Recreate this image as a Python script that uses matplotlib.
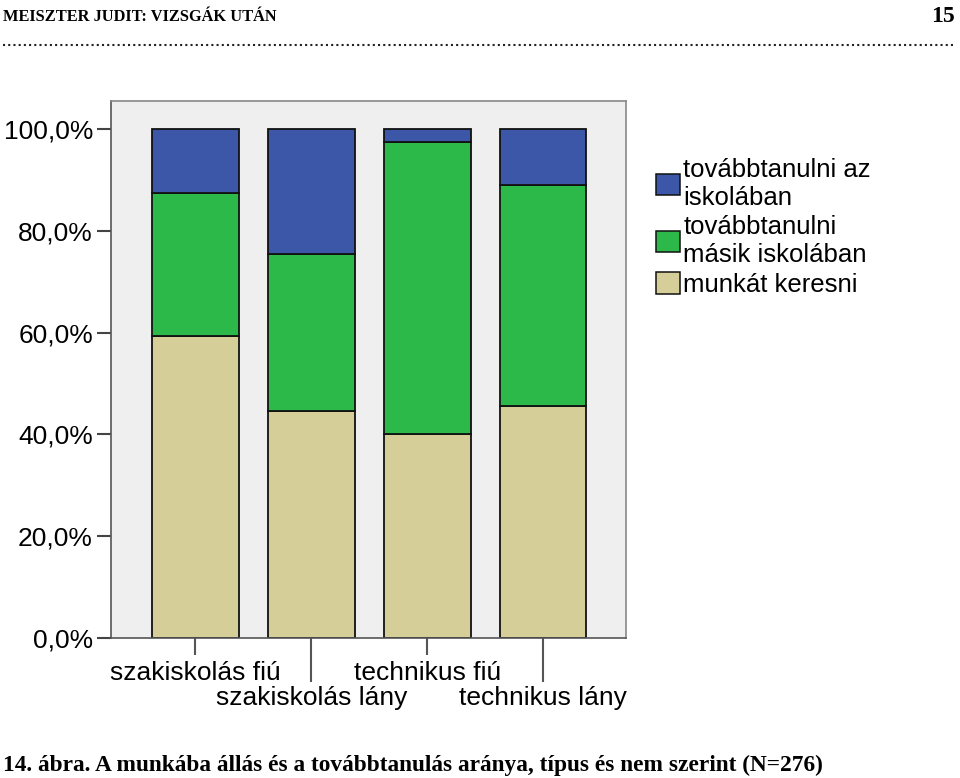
import matplotlib
matplotlib.use("Agg")
import matplotlib.pyplot as plt
from matplotlib.lines import Line2D
from matplotlib.patches import Patch
import numpy as np

# data (percent of each group)
groups_major = ["szakiskolás fiú", "technikus fiú"]
groups_minor = ["szakiskolás lány", "technikus lány"]
categories = ["szakiskolás fiú", "szakiskolás lány", "technikus fiú", "technikus lány"]
munkat_keresni = [59.3, 44.6, 40.1, 45.6]
masik_iskolaban = [28.1, 30.8, 57.3, 43.4]
az_iskolaban = [12.6, 24.6, 2.6, 11.0]
series_labels = ["továbbtanulni az\niskolában", "továbbtanulni\nmásik iskolában", "munkát keresni"]
yticks = [0, 20, 40, 60, 80, 100]

c_blue = "#3c57a8"
c_green = "#2db84a"
c_tan = "#d5ce98"
bg = "#efefef"

plt.rcParams["font.family"] = ["Liberation Sans", "DejaVu Sans"]

fig = plt.figure(figsize=(9.6, 7.78), dpi=100)
ax = fig.add_axes([111 / 960, 1 - 638 / 778, 515 / 960, 537 / 778])
ax.set_facecolor(bg)

x = np.arange(len(categories))
w = 0.75
ekw = dict(edgecolor="#111111", linewidth=1.3, width=w)
ax.bar(x, munkat_keresni, color=c_tan, **ekw)
ax.bar(x, masik_iskolaban, bottom=munkat_keresni, color=c_green, **ekw)
bottom2 = np.array(munkat_keresni) + np.array(masik_iskolaban)
ax.bar(x, az_iskolaban, bottom=bottom2, color=c_blue, **ekw)

ax.set_xlim(-0.728, 3.716)
ax.set_ylim(0, 105.5)

ax.set_yticks(yticks)
ax.set_yticklabels([f"{v:.1f}%".replace(".", ",") for v in yticks], fontsize=19)
ax.tick_params(axis="y", length=10, width=1.5, color="#444444", pad=3)

ax.set_xticks([0, 2])
ax.set_xticklabels(groups_major, fontsize=19)
ax.set_xticks([1, 3], minor=True)
ax.set_xticklabels(groups_minor, minor=True, fontsize=19)
ax.tick_params(axis="x", which="major", length=12.2, width=1.5, color="#555555", pad=4)
ax.tick_params(axis="x", which="minor", length=31.7, width=1.5, color="#555555", pad=3)

for s in ax.spines.values():
    s.set_color("#888888")
    s.set_linewidth(1.2)
ax.spines["left"].set_color("#555555")
ax.spines["bottom"].set_color("#555555")

handles = [Patch(facecolor=c, edgecolor="#111111", linewidth=1.1) for c in (c_blue, c_green, c_tan)]
fig.legend(handles, series_labels, loc="upper left", bbox_to_anchor=(656 / 960, 1 - 158 / 778),
           frameon=False, fontsize=18.5, handlelength=0.95, handleheight=0.92,
           handletextpad=0.12, labelspacing=0.2, borderpad=0, borderaxespad=0)

# page header / caption
fig.text(3 / 960, 1 - 17 / 778, "MEISZTER JUDIT: VIZSGÁK UTÁN", fontsize=11.8, fontweight="bold",
         family="Liberation Serif", va="center", ha="left")
fig.text(955 / 960, 1 - 17 / 778, "15", fontsize=17, fontweight="bold",
         family="Liberation Serif", va="center", ha="right")
fig.add_artist(Line2D([3 / 960, 955 / 960], [1 - 45 / 778] * 2, transform=fig.transFigure,
                      color="#222222", linestyle=(0, (1, 1.5)), linewidth=1.5))
fig.text(3 / 960, 1 - 765 / 778,
         "14. ábra. A munkába állás és a továbbtanulás aránya, típus és nem szerint (N=276)",
         fontsize=16.8, fontweight="bold", family="Liberation Serif", va="center", ha="left")

fig.savefig("out.png", dpi=100, facecolor="white")
